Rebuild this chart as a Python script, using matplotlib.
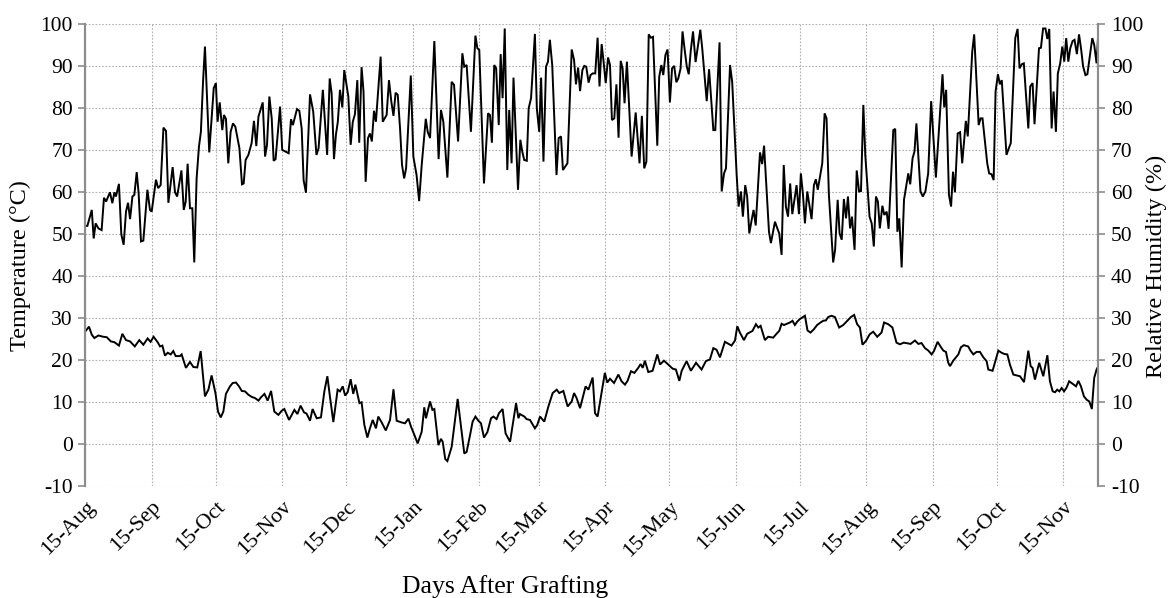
import numpy as np
import pandas as pd
import matplotlib
matplotlib.use("Agg")
import matplotlib.pyplot as plt

# ---- data (day offsets after 15-Aug-2013) ----
start_date = "2013-08-15"

hum_day = [0, 0.95, 3, 3.9, 4.8, 6.1, 7.6, 8.7, 9.7, 11.5, 12.6, 13.6, 14.3, 15.7, 16.8, 17.9, 19, 19.95, 20.9, 22,
           22.9, 24, 24.9, 26, 27.1, 29, 30.2, 31, 33, 34, 35.2, 36.5, 37.7, 38.8, 40.8, 41.9, 42.9, 44.9, 46, 46.9,
           47.8, 48.9, 50, 50.9, 52, 53.1, 54, 55, 55.9, 57.9, 60, 61, 61.8, 62.8, 64, 64.8, 65.7, 66.8, 67.9, 69,
           70.1, 72, 73.2, 74, 74.9, 76.2, 77.7, 78.8, 79.9, 80.9, 82.9, 84, 84.9, 86, 87.1, 88, 88.9, 91, 92, 93.5,
           95, 96.1, 97, 98.9, 100, 101.1, 102, 103.1, 105, 106.5, 108, 109, 111, 113, 114.2, 115.1, 116.2, 117.1, 118, 119,
           120.1, 121, 122.9, 124, 125, 126, 127.1, 128, 129.1, 130, 131, 132.1, 133, 133.9, 134.9, 135.8, 138, 139, 140.8, 141.9,
           143, 144, 145, 146, 147.1, 148, 149, 149.9, 152.1, 153.3, 154.8, 156, 157.2, 159.1, 160, 161.1, 163.1, 165.1, 166.2, 167.3,
           169.2, 171.2, 172.3, 174.2, 176.2, 177.1, 178.2, 180.2, 182.3, 183.2, 184.1, 186.3, 188.2, 189.1, 190, 191.1, 192, 193.2,
           194.1, 195, 196, 197.2, 198.1, 199.2, 200.1, 202.2, 203.3, 204.2, 205.1, 206.3, 207.2, 208.3, 210.1, 211, 212.1, 213,
           214.1, 215.3, 216.2, 217.1, 218.2, 220.2, 221.2, 222.3, 223.2, 225.3, 227.3, 228.4, 229.3, 230.3, 231.2, 232.3, 233.2, 234.1,
           235.2, 236.1, 237.1, 238.3, 239.4, 240.3, 241.3, 242.2, 243.2, 244.3, 245.2, 246.1, 247.2, 248.2, 249.2, 250.2, 251.1, 252,
           253.1, 255.3, 257.2, 259, 260.1, 261.2, 262.2, 263.3, 264.3, 265.3, 267.3, 268.2, 269.2, 270.1, 271.1, 272.1, 273.2, 274.2,
           275.2, 276.2, 277.1, 278.2, 279.1, 280.2, 281.1, 282, 282.9, 284, 285.2, 287.4, 288.3, 290.4, 291.5, 293.5, 294.4, 296.4,
           297.4, 298.5, 299.4, 301.3, 302.3, 304.4, 305.3, 306.4, 307.3, 308.4, 309.3, 310.3, 311.4, 312.3, 313.3, 315.3, 316.3, 317.2,
           319.5, 320.4, 322.3, 323.4, 324.3, 325.4, 326.4, 327.4, 328.4, 329.4, 330.4, 332.4, 333.5, 334.4, 335.4, 336.3, 337.4, 339.4,
           340.5, 341.4, 342.3, 344.4, 345.5, 346.4, 347.5, 349.5, 350.4, 351.6, 352.5, 353.5, 354.5, 355.5, 356.4, 357.4, 358.3, 359.5,
           360.5, 361.6, 362.5, 363.6, 364.5, 366.5, 367.5, 368.5, 369.5, 370.4, 371.3, 372.5, 373.4, 374.5, 375.4, 377.6, 378.5, 379.5,
           380.4, 381.5, 382.6, 384.6, 385.5, 386.6, 387.5, 388.4, 390.3, 391.4, 392.6, 393.9, 395.3, 397.5, 400.6, 401.4, 402.3, 403.6,
           404.6, 405.5, 406.4, 407.7, 408.8, 409.8, 411.5, 412.4, 414.5, 415.4, 417.5, 418.4, 419.3, 421.5, 422.4, 423.5, 424.5, 425.4,
           426.5, 427.4, 428.3, 430.5, 431.6, 432.5, 434.6, 435.7, 436.6, 437.7, 438.6, 440.7, 441.6, 442.7, 443.6, 445.7, 446.6, 447.6,
           448.7, 449.6, 450.5, 451.6, 452.5, 453.6, 454.5, 455.6, 456.6, 457.5, 458.4, 459.4, 460.3, 461.4, 462.3, 463.4, 464.4, 465.4,
           466.3, 467.4, 468.3, 470.6, 471.5, 472.6, 473.4]
hum_val = [52, 52, 55.8, 49, 52.6, 51.4, 51, 58.7, 57.8, 60, 57.4, 60, 59, 62, 50, 47.5, 55.4, 57.5, 53.6, 59,
           59.4, 64.8, 59.8, 48.3, 48.5, 60.6, 55.8, 55.4, 63, 61, 61.7, 75.4, 74.6, 57.5, 66, 60, 59, 65.2, 55.8, 57.8,
           66.8, 56.2, 56.2, 43.3, 63.3, 70.9, 74.4, 86.3, 94.7, 69.5, 84.8, 86, 76.8, 81.4, 74.8, 78.4, 77.5, 66.9, 74.4, 76.4,
           75.6, 70.5, 61.9, 62.1, 67.7, 68.9, 71.7, 77, 71, 78, 81.4, 68.5, 71.3, 82.8, 77.6, 67.5, 67.9, 80.4, 70.1, 69.7,
           69.3, 77.4, 76, 79.8, 79.4, 75.2, 62.9, 59.9, 83.3, 79.2, 68.9, 70.5, 84.4, 68.9, 87.1, 83.6, 67.9, 73.7, 76.8, 84.4,
           80.2, 89.1, 82.8, 71.3, 76.8, 78.6, 86.7, 71.8, 89.8, 84, 62.5, 72.9, 74, 72.1, 79.4, 76.8, 92.3, 76.8, 78.4, 86.7,
           81.6, 78.2, 83.7, 83.2, 75, 66.5, 63.3, 65.7, 87.8, 68.5, 64.1, 57.9, 66.5, 77.5, 74.4, 72.9, 96, 67.9, 79.6, 76.8,
           63.5, 86.3, 85.6, 72.1, 93.1, 89.9, 90.3, 74.4, 97.3, 94.3, 93.9, 62.1, 78.8, 78.4, 71.8, 90.3, 89.5, 76,
           92.9, 82.4, 99, 65.3, 79.6, 66.9, 87.3, 60.6, 72.5, 69.7, 67.7, 67.5, 80, 82.4, 97.7, 80, 74.4, 87.3,
           67.3, 89.9, 91.1, 96.3, 90.3, 64.1, 72.9, 73.3, 65.3, 66.9, 94, 91.5, 85.7, 89.7, 84.1, 89.1, 90.1, 89.9,
           86.1, 87.9, 88.3, 88.3, 96.8, 85.2, 95.3, 91.1, 86, 92.1, 90.3, 77.2, 77.6, 85.7, 73, 91.3, 89.5, 81.2,
           91.1, 68.5, 79, 66.9, 78.2, 65.7, 67.3, 97.6, 96.8, 97, 71.1, 87.5, 90.3, 87.9, 92.7, 94, 81.4, 89.5,
           90.1, 86.2, 87.1, 89.5, 98.3, 93.5, 89.9, 88.1, 93.5, 98.3, 91, 98.7, 94.3, 81.7, 89.3, 74.8, 74.8, 95.7,
           60.2, 64.5, 65.7, 90.3, 86.3, 64.1, 56.6, 60.2, 54.2, 61.7, 59, 50.2, 53.4, 55.8, 52.1, 69.5, 66.7, 71.1,
           50.6, 47.9, 53, 51.4, 50.2, 45.1, 66.5, 56.6, 54.2, 62.1, 54.8, 61.7, 54.8, 64.5, 59.4, 52.6, 60.2, 53.6,
           61.7, 63.1, 60.6, 66.9, 78.8, 77.6, 59.4, 43.3, 46.3, 58.2, 50.2, 48.7, 58.4, 53.8, 59, 51.4, 54.2, 46.3,
           65.2, 60.2, 60.3, 80.8, 68.9, 54.2, 52.6, 47.1, 59, 57.8, 51.4, 56.8, 54.6, 55.4, 51.3, 74.8, 75.1, 50.6,
           53.8, 42.1, 58.2, 64.5, 61.9, 68.1, 69.7, 76.4, 60.2, 59, 60.2, 64.5, 81.7, 63.5, 88.1, 80.2, 84.4, 59.4,
           56.6, 64.9, 60, 74, 74.3, 66.9, 77, 73.3, 93.5, 97.6, 76, 77.6, 77.6, 66.9, 64.5, 64.3, 62.9, 84,
           88.1, 85.7, 86.7, 68.9, 70.5, 71.7, 96.7, 98.9, 89.5, 90.5, 90.7, 75.2, 85.2, 86, 76.2, 94.3, 94.4, 99,
           99, 96.5, 98.9, 75.2, 84, 74.4, 88.3, 90.7, 94.7, 91.1, 96.7, 91.1, 94.3, 96, 96.3, 92.9, 97.6, 94,
           90, 87.9, 88.1, 96.7, 95.1, 90.7, 97.9]

temp_day = [0, 1.7, 3, 4.2, 6.1, 8.4, 10, 11.9, 13.6, 15.7, 17.3, 19, 20.9, 23.1, 25.2, 27.1, 29.1, 30.5, 31.9, 33.8,
            34.9, 36, 37.2, 38.5, 39.9, 41.1, 42.2, 44.2, 45, 47, 48.9, 50.5, 52.3, 53.9, 55.9, 57.5, 59, 60.8, 62, 63.3,
            64.5, 65.7, 67.6, 68.9, 70.4, 71.8, 73.1, 74.6, 76.2, 77.7, 79.3, 80.9, 82.1, 83.7, 85.2, 86.8, 88.3, 90.2, 91.8, 93,
            95.2, 97.7, 99.1, 100.6, 102.2, 103.4, 105, 106.2, 108.1, 110.1, 111.7, 113.1, 114.3, 115.9, 117.9, 119, 120.3, 121.4, 122.6, 124,
            125.2, 126.2, 128.1, 129.1, 130.4, 131.8, 133, 134.3, 135.8, 136.9, 138.5, 140.4, 142.4, 144, 145.5, 147.8, 149.4, 151, 152.2, 153.8,
            155.3, 157.2, 158.4, 159.2, 161.1, 162.2, 163.1, 165, 166.2, 167, 168.2, 169.2, 171.2, 174, 177.1, 178.2, 179.8, 181, 182.3, 183.7,
            184.9, 186.3, 187.9, 189.6, 190.7, 192.2, 193.3, 195, 196.4, 198.5, 201.3, 202.4, 203.1, 205.2, 206.2, 207.8, 210.1, 211.2, 212.5, 214.5,
            216.4, 218.4, 220.3, 221.5, 223.4, 225.4, 227.3, 228.4, 229.6, 231.2, 233.8, 235.1, 237.1, 238.2, 239.4, 242.8, 243.9, 245.2, 247.1, 249.1,
            250.6, 252.2, 253.4, 255, 256.6, 258.4, 259.5, 260.5, 261.5, 263.1, 265.1, 267.3, 268.6, 270.4, 272.4, 274.5, 276, 277.6, 278.7, 281,
            283, 285.4, 288, 290, 291.9, 293.5, 295, 296.6, 298.9, 302, 303.6, 304.7, 305.9, 307.8, 309.3, 311.8, 313.4, 314.5, 315.6, 317.6,
            319.1, 321.5, 323, 324.3, 325.4, 326.5, 329.3, 330.5, 331.6, 332.7, 333.9, 336.3, 337.5, 338.9, 340.5, 342, 343.6, 344.8, 346.1, 347.2,
            348.7, 350.3, 352.3, 354.2, 355.7, 357.8, 359.3, 360.7, 362, 363.2, 364.8, 366.6, 368.2, 370.1, 372.1, 373.3, 375.2, 377.2, 379.1, 380.7,
            382.5, 384.6, 385.7, 387.7, 389.3, 390.8, 392.4, 394, 395.5, 396.6, 398.3, 399.9, 401, 402.2, 403.3, 404.1, 405.6, 408, 409.2, 410.6,
            412.6, 413.7, 415, 416.5, 418.1, 419.7, 421.2, 422, 424, 426.7, 428.2, 429.5, 430.9, 432.1, 433.7, 435.2, 436.8, 438.7, 440.7, 441.8,
            442.7, 443.8, 445.8, 446.9, 447.7, 449.6, 450.8, 452.1, 453.2, 454.2, 455.2, 456.3, 457.4, 458.6, 459.8, 460.9, 463, 464.1, 465.3, 466.7,
            468, 469.2, 470.4, 471.5, 472.6, 473.4]
temp_val = [26.9, 28, 26.1, 25.3, 25.9, 25.6, 25.5, 24.5, 24.3, 23.5, 26.3, 24.8, 24.5, 23.3, 24.8, 23.7, 25.2, 24.4, 25.6, 24.3,
            23.3, 23.5, 21.1, 21.8, 21.4, 22.2, 21, 21, 21.4, 18.2, 19.6, 18.4, 18.3, 22.2, 11.4, 13, 16.4, 12.2, 7.8, 6.4,
            7.8, 12, 13.8, 14.6, 14.7, 13.8, 12.7, 12.6, 11.8, 11.3, 11, 10.4, 11.2, 12, 10.4, 12.7, 7.8, 7, 8, 8.4,
            5.8, 8.2, 7.2, 9.2, 7.6, 7.3, 5.6, 8.4, 6.2, 6.4, 12.6, 16.2, 11.4, 5.3, 13, 12.6, 13.8, 11.6, 12.4, 15.5,
            12, 14.2, 9.8, 10, 4.6, 1.6, 3.8, 5.8, 3.8, 6.6, 5.2, 3.3, 5.8, 13.1, 5.6, 5.2, 5, 6.1, 4.2, 2.2,
            0.2, 3, 8.8, 6.2, 10.2, 8.2, 8.4, -0.2, 1.3, 0.6, -3.5, -4, -0.6, 10.8, -2.2, -1.8, 2.2, 5.4, 6.6, 5.6,
            5, 1.6, 2.9, 6.2, 6.6, 6, 7.4, 8.4, 2.6, 0.6, 9.8, 6.2, 7.2, 6.6, 6, 5.8, 3.8, 4.6, 6.6, 5.4,
            9, 12.2, 13, 12.2, 12.7, 9, 10.2, 12.2, 11, 8.6, 13.8, 13, 15.9, 7.4, 6.6, 17, 14.7, 15.6, 14.6, 16.6,
            15, 14.2, 15.1, 17.4, 17, 18.2, 19.1, 18.2, 19.9, 17.2, 17.5, 21.4, 19, 19.9, 19, 18, 17.8, 15.1, 17.5, 19.8,
            17.5, 19.4, 17.8, 19.8, 20.2, 22.9, 22.5, 20.7, 24.4, 23.5, 24.7, 28.1, 26.6, 24.8, 26.3, 27, 28.6, 27.8, 28.2, 24.8,
            25.6, 25.4, 26.3, 27, 28.7, 28.4, 29, 29.4, 28.4, 29.2, 29.8, 30.6, 27.1, 26.6, 27.4, 28.4, 29, 29.4, 29.5, 30.3,
            30.6, 30.3, 27.8, 28.4, 29.2, 30.3, 30.8, 28.6, 27.8, 23.7, 24.6, 26.2, 26.8, 25.6, 26.6, 29, 28.6, 27.8, 24.2, 23.8,
            24.2, 24, 23.9, 24.7, 23.9, 24.1, 22.9, 22.3, 21.4, 22.2, 24.4, 23.1, 22.3, 22, 19.4, 18.6, 19.9, 21.4, 23.1, 23.6,
            23.3, 22.3, 21.4, 22, 22, 20.7, 19.8, 17.8, 17.5, 22.3, 21.8, 21.5, 21.4, 19, 16.6, 16.4, 16.2, 14.8, 22.3, 18.6,
            18.2, 15.4, 19.4, 17.5, 16.2, 21.2, 15, 12.6, 12.4, 13, 12.6, 13.4, 12.6, 13.5, 15, 14.6, 13.8, 15.1, 13.8, 11.4,
            10.6, 10.2, 8.4, 15.8, 17.8, 18.6]

tick_labels = ["15-Aug", "15-Sep", "15-Oct", "15-Nov", "15-Dec", "15-Jan", "15-Feb", "15-Mar",
               "15-Apr", "15-May", "15-Jun", "15-Jul", "15-Aug", "15-Sep", "15-Oct", "15-Nov"]
x_end_days = 473.4

# ---- build dates ----
base = pd.Timestamp(start_date)
hum_dates = base + pd.to_timedelta(hum_day, unit="D")
temp_dates = base + pd.to_timedelta(temp_day, unit="D")
tick_dates = pd.date_range(start_date, periods=len(tick_labels), freq=pd.DateOffset(months=1))

plt.rcParams["font.family"] = ["Liberation Serif", "DejaVu Serif"]
plt.rcParams["axes.unicode_minus"] = False

fig = plt.figure(figsize=(11.74, 5.98), dpi=100)
ax = fig.add_axes([0.0727, 0.1868, 0.8628, 0.7726])
ax2 = ax.twinx()

ax.plot(hum_dates, hum_val, color="black", lw=1.4, solid_joinstyle="miter")
ax.plot(temp_dates, temp_val, color="black", lw=1.4, solid_joinstyle="miter")

ax.set_xlim(base, base + pd.Timedelta(days=x_end_days))
for a in (ax, ax2):
    a.set_ylim(-10, 100)
    a.set_yticks(np.arange(-10, 101, 10))
    a.tick_params(axis="y", direction="out", length=5, width=1.2, color="#8c8c8c", labelsize=15.5, pad=4)
    for s in ("top", "bottom"):
        a.spines[s].set_visible(False)
    for s in ("left", "right"):
        a.spines[s].set_color("#8c8c8c")
        a.spines[s].set_linewidth(1.5)

ax.set_xticks(tick_dates)
ax.set_xticklabels(tick_labels, rotation=45, ha="right", rotation_mode="anchor", fontsize=16)
ax.tick_params(axis="x", length=0, pad=8)

ax.grid(True, which="major", color="#b0b0b0", linestyle=(0, (1.5, 1.5)), linewidth=0.8)
ax.set_axisbelow(True)

fig.text(20 / 1174, 1 - 266 / 598, "Temperature (°C)", rotation=90, ha="center", va="center", fontsize=17.5)
fig.text(1156 / 1174, 1 - 266 / 598, "Relative Humidity (%)", rotation=90, ha="center", va="center", fontsize=17.5)
fig.text(505 / 1174, 1 - 587 / 598, "Days After Grafting", ha="center", va="center", fontsize=18.5)

fig.savefig("out.png", dpi=100)
